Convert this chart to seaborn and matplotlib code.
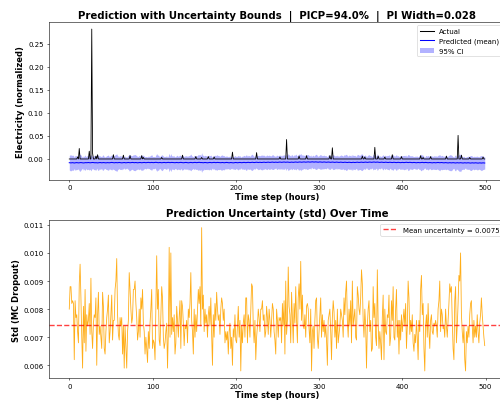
import numpy as np
import pandas as pd
import matplotlib
matplotlib.use("Agg")
import matplotlib.pyplot as plt
from matplotlib.lines import Line2D
from matplotlib.patches import Patch
import seaborn as sns

# ---------------- data ----------------
n_steps = 500
steps = np.arange(n_steps)

# Actual: flat baseline with sparse spikes
actual_baseline = -0.0003
spike_steps = [10, 12, 24, 27, 28, 32, 34, 53, 65, 73, 87, 89, 111, 136, 152, 159, 167, 174,
               196, 225, 253, 261, 276, 285, 313, 316, 352, 355, 367, 371, 379, 388, 399,
               422, 425, 434, 453, 467, 471, 481, 497]
spike_values = [0.004, 0.0225, 0.0166, 0.282, 0.012, 0.006, 0.009, 0.009, 0.008, 0.007, 0.007,
                0.003, 0.003, 0.008, 0.005, 0.003, 0.005, 0.004, 0.0145, 0.0135, 0.004, 0.042,
                0.006, 0.007, 0.007, 0.024, 0.006, 0.004, 0.025, 0.006, 0.004, 0.009, 0.005,
                0.007, 0.003, 0.005, 0.006, 0.051, 0.008, 0.003, 0.004]

# Predicted mean (units of 1e-4)
pred_mean_e4 = [
    -84, -86, -88, -85, -83, -87, -90, -86, -84, -82,
    -85, -88, -86, -83, -81, -84, -87, -89, -86, -84,
    -82, -85, -83, -80, -84, -86, -83, -81, -79, -82,
    -84, -86, -83, -85, -88, -85, -82, -80, -83, -86,
    -84, -81, -83, -85, -87, -84, -82, -84, -86, -83,
    -80, -78, -81, -84, -86, -83, -81, -83, -85, -82,
    -79, -82, -84, -87, -85, -82, -80, -83, -86, -84,
    -81, -79, -82, -85, -83, -80, -78, -81, -84, -82,
    -80, -83, -86, -84, -81, -79, -82, -85, -83, -80,
    -78, -81, -84, -82, -79, -77, -80, -83, -81, -78,
    -80, -83, -81, -78, -76, -79, -82, -84, -81, -79,
    -82, -85, -83, -80, -78, -81, -84, -82, -79, -77,
    -80, -83, -81, -78, -80, -83, -86, -84, -81, -79,
    -82, -84, -81, -79, -77, -80, -83, -85, -82, -80,
    -78, -81, -84, -86, -83, -80, -78, -81, -84, -82,
    -79, -77, -80, -83, -81, -78, -76, -79, -82, -80,
    -83, -85, -82, -79, -81, -84, -86, -83, -80, -78,
    -81, -84, -82, -79, -77, -80, -83, -81, -78, -80,
    -83, -86, -84, -81, -79, -82, -85, -83, -80, -78,
    -81, -84, -86, -83, -80, -82, -85, -87, -84, -81,
    -79, -82, -85, -83, -80, -78, -81, -84, -82, -79,
    -77, -80, -83, -81, -78, -76, -79, -82, -80, -77,
    -75, -78, -81, -79, -76, -74, -77, -80, -78, -75,
    -77, -80, -78, -75, -73, -76, -79, -77, -74, -72,
    -75, -78, -76, -73, -71, -74, -77, -75, -72, -74,
    -77, -75, -72, -70, -73, -76, -74, -71, -69, -72,
    -75, -73, -70, -72, -75, -77, -74, -71, -73, -76,
    -74, -71, -69, -72, -75, -73, -70, -68, -71, -74,
    -72, -69, -67, -70, -73, -71, -68, -66, -69, -72,
    -70, -67, -65, -68, -71, -69, -66, -68, -71, -73,
    -70, -67, -69, -72, -74, -71, -68, -70, -73, -75,
    -72, -69, -71, -74, -76, -73, -70, -72, -75, -77,
    -74, -71, -73, -76, -78, -75, -72, -74, -77, -79,
    -76, -73, -75, -78, -80, -77, -74, -76, -79, -81,
    -78, -75, -77, -80, -78, -75, -73, -76, -79, -77,
    -74, -72, -75, -78, -76, -73, -71, -74, -77, -75,
    -72, -70, -73, -76, -74, -71, -69, -72, -75, -73,
    -70, -73, -76, -78, -75, -72, -74, -77, -79, -76,
    -73, -75, -78, -80, -77, -74, -76, -79, -81, -78,
    -75, -77, -80, -82, -79, -76, -78, -81, -83, -80,
    -77, -79, -82, -80, -77, -75, -78, -81, -79, -76,
    -78, -81, -83, -80, -78, -80, -83, -85, -82, -79,
    -81, -84, -82, -79, -77, -80, -83, -81, -78, -80,
    -83, -85, -82, -80, -82, -85, -87, -84, -81, -83,
    -86, -84, -81, -79, -82, -85, -83, -80, -82, -85,
    -87, -84, -82, -84, -87, -89, -86, -83, -85, -88,
    -86, -83, -85, -88, -90, -87, -84, -86, -89, -87,
    -84, -86, -89, -91, -88, -85, -87, -90, -88, -85,
    -87, -90, -92, -89, -86, -88, -91, -89, -86, -88,
    -91, -93, -90, -87, -89, -92, -90, -87, -89, -91,
]

# MC-dropout std (units of 1e-4)
pred_std_e4 = [
    80, 88, 88, 82, 83, 82, 62, 83, 77, 78,
    72, 68, 89, 96, 84, 70, 59, 81, 68, 87,
    65, 78, 74, 76, 82, 71, 91, 72, 66, 75,
    78, 77, 84, 60, 78, 86, 71, 74, 70, 66,
    86, 81, 66, 64, 72, 77, 80, 85, 68, 72,
    78, 85, 69, 76, 76, 87, 90, 98, 78, 71,
    69, 77, 74, 77, 64, 74, 59, 74, 66, 59,
    72, 76, 93, 87, 80, 75, 77, 87, 87, 90,
    82, 77, 69, 72, 80, 70, 84, 80, 87, 75,
    72, 64, 70, 66, 61, 72, 66, 75, 80, 87,
    66, 69, 68, 62, 80, 99, 80, 87, 69, 67,
    78, 88, 84, 70, 66, 68, 72, 75, 59, 72,
    102, 70, 100, 71, 77, 72, 78, 64, 68, 81,
    76, 70, 77, 83, 66, 83, 81, 75, 67, 74,
    73, 76, 68, 80, 77, 82, 93, 76, 72, 64,
    80, 70, 78, 72, 80, 87, 82, 88, 74, 109,
    80, 85, 72, 80, 75, 78, 70, 78, 81, 74,
    84, 71, 60, 78, 70, 82, 76, 86, 80, 76,
    78, 71, 80, 84, 82, 76, 80, 68, 72, 69,
    72, 64, 72, 75, 66, 70, 60, 73, 70, 78,
    69, 68, 74, 81, 70, 76, 58, 74, 68, 75,
    78, 70, 84, 84, 68, 78, 76, 70, 80, 89,
    88, 74, 68, 76, 62, 70, 74, 80, 77, 72,
    80, 80, 83, 76, 78, 70, 72, 81, 77, 71,
    80, 76, 70, 76, 82, 80, 72, 69, 64, 80,
    76, 70, 77, 76, 77, 68, 82, 74, 83, 64,
    90, 71, 76, 95, 81, 78, 68, 86, 77, 68,
    82, 75, 88, 76, 68, 84, 89, 80, 97, 76,
    85, 74, 73, 78, 70, 81, 82, 80, 73, 68,
    80, 58, 72, 74, 66, 76, 83, 84, 70, 66,
    72, 78, 84, 70, 78, 72, 76, 70, 74, 69,
    60, 76, 78, 80, 72, 62, 77, 83, 79, 70,
    76, 66, 80, 68, 71, 74, 80, 78, 76, 70,
    84, 78, 86, 90, 76, 70, 80, 74, 83, 68,
    90, 74, 77, 80, 70, 69, 88, 85, 80, 78,
    84, 94, 89, 76, 70, 80, 74, 59, 74, 80,
    83, 72, 76, 65, 66, 88, 77, 82, 70, 67,
    94, 75, 66, 72, 68, 62, 77, 85, 62, 80,
    72, 71, 78, 77, 85, 67, 70, 83, 76, 88,
    70, 69, 80, 87, 70, 76, 64, 76, 69, 78,
    72, 76, 80, 74, 82, 66, 74, 90, 84, 71,
    76, 72, 78, 68, 65, 71, 68, 76, 70, 62,
    76, 72, 87, 92, 78, 82, 66, 58, 74, 78,
    70, 82, 72, 66, 76, 78, 72, 71, 75, 74,
    76, 74, 70, 80, 83, 90, 72, 80, 78, 73,
    74, 70, 80, 74, 70, 76, 82, 89, 86, 88,
    76, 66, 62, 83, 88, 68, 74, 82, 92, 90,
    100, 78, 72, 68, 74, 62, 58, 72, 68, 74,
    70, 78, 82, 83, 74, 68, 76, 70, 74, 70,
    78, 72, 68, 75, 78, 84, 78, 74, 70, 67,
]

mean_uncertainty = 0.00745
mean_uncertainty_label = "0.0075"
picp_text = "94.0%"
pi_width_text = "0.028"

# ---------------- derived ----------------
actual = np.full(n_steps, actual_baseline)
actual[spike_steps] = spike_values
pred_mean = np.array(pred_mean_e4) * 1e-4
pred_std = np.array(pred_std_e4) * 1e-4
lower = pred_mean - 1.96 * pred_std
upper = pred_mean + 1.96 * pred_std

df = pd.DataFrame({"step": steps, "actual": actual, "mean": pred_mean, "std": pred_std})

# ---------------- plot ----------------
fig, (ax1, ax2) = plt.subplots(2, 1, figsize=(10, 8.04), dpi=50)
fig.subplots_adjust(left=0.097, right=1.011, top=0.943, bottom=0.057, hspace=0.26)

ax1.fill_between(df["step"], lower, upper, color="blue", alpha=0.3, linewidth=0, zorder=1)
sns.lineplot(data=df, x="step", y="actual", ax=ax1, color="black", linewidth=1.2,
             zorder=3, legend=False)
sns.lineplot(data=df, x="step", y="mean", ax=ax1, color="blue", linewidth=1.5,
             zorder=2, legend=False)
ax1.set_title(f"Prediction with Uncertainty Bounds  |  PICP={picp_text}  |  PI Width={pi_width_text}",
              fontsize=14.5, fontweight="bold")
ax1.set_xlabel("Time step (hours)", fontsize=12, fontweight="bold", labelpad=2)
ax1.set_ylabel("Electricity (normalized)", fontsize=12, fontweight="bold")
handles1 = [Line2D([], [], color="black", linewidth=1.5),
            Line2D([], [], color="blue", linewidth=1.5),
            Patch(facecolor="blue", alpha=0.3, edgecolor="none")]
ax1.legend(handles1, ["Actual", "Predicted (mean)", "95% CI"], loc="upper right")

sns.lineplot(data=df, x="step", y="std", ax=ax2, color="orange", linewidth=1.2, alpha=0.9,
             legend=False)
ax2.axhline(mean_uncertainty, color="red", linestyle="--", linewidth=2.0, alpha=0.75)
ax2.set_title("Prediction Uncertainty (std) Over Time", fontsize=14.5, fontweight="bold")
ax2.set_xlabel("Time step (hours)", fontsize=12, fontweight="bold", labelpad=2)
ax2.set_ylabel("Std (MC Dropout)", fontsize=12, fontweight="bold")
handles2 = [Line2D([], [], color="red", linestyle="--", linewidth=2.0, alpha=0.75)]
ax2.legend(handles2, [f"Mean uncertainty = {mean_uncertainty_label}"], loc="upper right")

fig.savefig("out.png", dpi=50)
